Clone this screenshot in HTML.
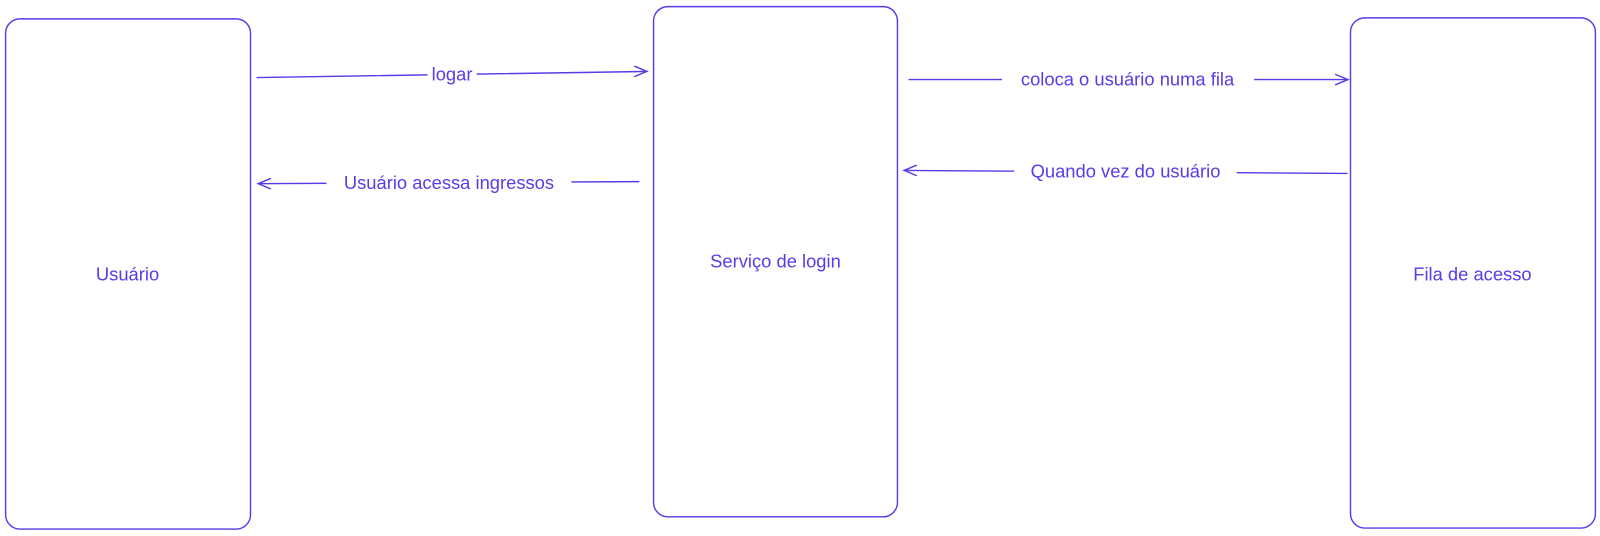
<!DOCTYPE html>
<html><head><meta charset="utf-8"><style>
html,body{margin:0;padding:0;background:#fff;overflow:hidden;}
svg{display:block;}
text{font-family:"Liberation Sans",sans-serif;font-size:18px;fill:#5b3ae8;}
</style></head><body>
<svg width="1600" height="536" viewBox="0 0 1600 536" xmlns="http://www.w3.org/2000/svg">
<g transform="scale(1.0204)">
<g fill="none" stroke="#5b3ae8" stroke-width="1.4" stroke-linecap="round">
<rect x="5.5" y="18.5" width="240" height="500" rx="14"/>
<rect x="640.5" y="6.5" width="239" height="500" rx="14"/>
<rect x="1323.5" y="17.5" width="240" height="500" rx="14"/>
<path d="M252 76 L634 70"/><path d="M622 65 L634 70 L622 75"/>
<path d="M626 178 L253 180"/><path d="M265 175 L253 180 L265 185"/>
<path d="M891 78 L1321 78"/><path d="M1309 73 L1321 78 L1309 83"/>
<path d="M1320 170 L886 167"/><path d="M898 162 L886 167 L898 172"/>
</g>
<g fill="#fff">
<rect x="419" y="62" width="48" height="22"/>
<rect x="320" y="168" width="240" height="22"/>
<rect x="982" y="67" width="247" height="22"/>
<rect x="994" y="157" width="218" height="22"/>
</g>
<g text-anchor="middle">
<text x="443" y="79">logar</text>
<text x="440" y="185">Usuário acessa ingressos</text>
<text x="1105" y="84">coloca o usuário numa fila</text>
<text x="1103" y="174">Quando vez do usuário</text>
<text x="125" y="275">Usuário</text>
<text x="760" y="262">Serviço de login</text>
<text x="1443" y="275">Fila de acesso</text>
</g>
</g>
</svg>
</body></html>
